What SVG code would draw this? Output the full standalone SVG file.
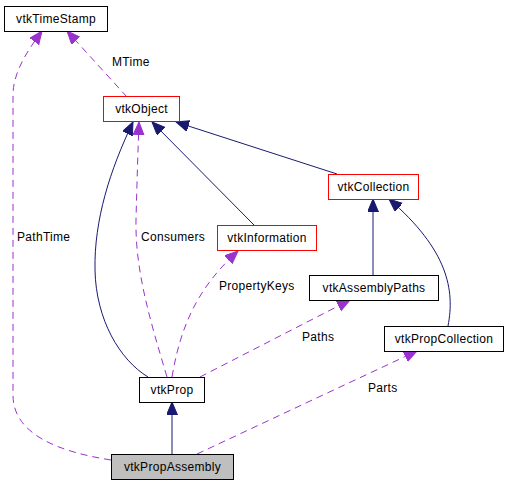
<svg xmlns="http://www.w3.org/2000/svg" width="508" height="485" viewBox="0 0 508 485">
<style>
.box{fill:#ffffff;stroke:#000000;stroke-width:1}
.red{fill:#ffffff;stroke:#ff0000;stroke-width:1}
.cur{fill:#bfbfbf;stroke:#000000;stroke-width:1}
text{font-family:"Liberation Sans",Arial,sans-serif;font-size:12px;letter-spacing:0.3px;fill:#000000}
.c{text-anchor:middle}
.inh{fill:none;stroke:#191970;stroke-width:1}
.use{fill:none;stroke:#9a32cd;stroke-width:1;stroke-dasharray:7,5}
</style>
<defs>
<marker id="an" markerUnits="userSpaceOnUse" markerWidth="14" markerHeight="12" refX="13" refY="5.5" orient="auto">
<path d="M0,0 L13,5.5 L0,11 z" fill="#191970" stroke="#191970"/>
</marker>
<marker id="ap" markerUnits="userSpaceOnUse" markerWidth="14" markerHeight="12" refX="13" refY="5.5" orient="auto">
<path d="M0,0 L13,5.5 L0,11 z" fill="#9a32cd" stroke="#9a32cd"/>
</marker>
</defs>
<g id="edges">
<path class="inh" d="M148,377 C120,360 96,320 95,270 C94,220 110,170 133,122" marker-end="url(#an)"/>
<path class="inh" d="M254,225 L152,122" marker-end="url(#an)"/>
<path class="inh" d="M337,174 L176,122" marker-end="url(#an)"/>
<path class="inh" d="M373,275 L373,199" marker-end="url(#an)"/>
<path class="inh" d="M448,326 C455,290 448,250 389,199" marker-end="url(#an)"/>
<path class="inh" d="M172,454 L172,402" marker-end="url(#an)"/>
<path class="use" d="M111,460 C60,452 13,435 13,395 L13,95 C13,72 28,50 42,31" marker-end="url(#ap)"/>
<path class="use" d="M127,97 L67,31" marker-end="url(#ap)"/>
<path class="use" d="M167,377 C150,320 135,270 136,220 C137,180 138,150 139,122" marker-end="url(#ap)"/>
<path class="use" d="M172,377 C180,330 195,290 238,251" marker-end="url(#ap)"/>
<path class="use" d="M200,377 L350,300" marker-end="url(#ap)"/>
<path class="use" d="M197,454 L417,351" marker-end="url(#ap)"/>
<text x="112" y="66">MTime</text>
<text x="17" y="241">PathTime</text>
<text x="141" y="241">Consumers</text>
<text x="219" y="290">PropertyKeys</text>
<text x="302" y="341">Paths</text>
<text x="368" y="392">Parts</text>
</g>
<g id="vtkTimeStamp"><rect class="box" x="4.5" y="6.5" width="103" height="25"/><text class="c" x="56" y="23">vtkTimeStamp</text></g>
<g id="vtkObject"><rect class="red" x="103.5" y="96.5" width="76" height="25"/><text class="c" x="141.5" y="113">vtkObject</text></g>
<g id="vtkCollection"><rect class="red" x="328.5" y="174.5" width="90" height="25"/><text class="c" x="373.5" y="191">vtkCollection</text></g>
<g id="vtkInformation"><rect class="red" x="217.5" y="225.5" width="99" height="25"/><text class="c" x="267" y="242">vtkInformation</text></g>
<g id="vtkAssemblyPaths"><rect class="box" x="309.5" y="275.5" width="129" height="25"/><text class="c" x="374" y="292">vtkAssemblyPaths</text></g>
<g id="vtkPropCollection"><rect class="box" x="384.5" y="326.5" width="119" height="25"/><text class="c" x="444" y="343">vtkPropCollection</text></g>
<g id="vtkProp"><rect class="box" x="139.5" y="377.5" width="65" height="25"/><text class="c" x="172" y="394">vtkProp</text></g>
<g id="vtkPropAssembly"><rect class="cur" x="111.5" y="454.5" width="122" height="25"/><text class="c" x="172.5" y="471">vtkPropAssembly</text></g>
</svg>
